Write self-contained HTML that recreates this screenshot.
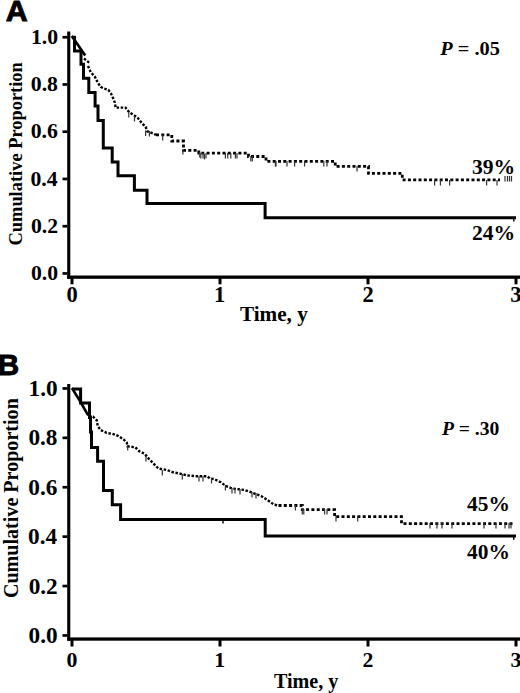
<!DOCTYPE html>
<html><head><meta charset="utf-8"><style>
html,body{margin:0;padding:0;background:#fff;overflow:hidden;}
svg{display:block;}
.t{font-family:"Liberation Serif",serif;font-weight:bold;fill:#000;}
.s{font-family:"Liberation Sans",sans-serif;font-weight:bold;fill:#000;stroke:#000;stroke-width:0.9;}
.c{fill:none;stroke:#000;stroke-width:3;stroke-linejoin:miter;stroke-linecap:butt;}
.d{fill:none;stroke:#000;stroke-width:2.8;stroke-dasharray:3 2.3;}
.e{fill:none;stroke:#000;stroke-width:2.4;stroke-dasharray:2.5 1.6;}
.k{fill:#333;}
.f{fill:none;stroke:#000;stroke-width:2.6;stroke-linecap:square;}
</style></head><body>
<svg width="520" height="693" viewBox="0 0 520 693">
<rect x="67.2" y="31.5" width="3.1" height="247.3"/>
<rect x="67.2" y="275.5" width="452.8" height="3.3"/>
<rect x="62.5" y="272.1" width="5" height="2.7"/>
<text class="t" font-size="20.7" transform="translate(30.9,280.2) scale(1.05,1)">0.0</text>
<rect x="62.5" y="224.86" width="5" height="2.7"/>
<text class="t" font-size="20.7" transform="translate(31.01,232.96) scale(1.05,1)">0.2</text>
<rect x="62.5" y="177.62" width="5" height="2.7"/>
<text class="t" font-size="20.7" transform="translate(30.47,185.72) scale(1.05,1)">0.4</text>
<rect x="62.5" y="130.38" width="5" height="2.7"/>
<text class="t" font-size="20.7" transform="translate(30.68,138.48) scale(1.05,1)">0.6</text>
<rect x="62.5" y="83.14" width="5" height="2.7"/>
<text class="t" font-size="20.7" transform="translate(30.79,91.24) scale(1.05,1)">0.8</text>
<rect x="62.5" y="35.9" width="5" height="2.7"/>
<text class="t" font-size="20.7" transform="translate(30.9,44) scale(1.05,1)">1.0</text>
<rect x="70.5" y="277.1" width="3" height="7.2"/>
<text class="t" font-size="22.5" transform="translate(66.38,301.9)">0</text>
<rect x="218.5" y="277.1" width="3" height="7.2"/>
<text class="t" font-size="22.5" transform="translate(214.04,301.9)">1</text>
<rect x="366.5" y="277.1" width="3" height="7.2"/>
<text class="t" font-size="22.5" transform="translate(362.43,301.9)">2</text>
<rect x="514.5" y="277.1" width="3" height="7.2"/>
<text class="t" font-size="22.5" transform="translate(510.32,301.9)">3</text>
<text class="t" font-size="21.2" transform="translate(239.88,320.6)">Time, y</text>
<text class="t" font-size="19.4" text-anchor="middle" transform="translate(21.9,153.85) rotate(-90) scale(0.95,1)">Cumulative Proportion</text>
<text class="t" font-size="19.2" transform="translate(440.2,54.8) scale(1.06,1)"><tspan font-style="italic">P</tspan> = .05</text>
<text class="t" font-size="20.8" transform="translate(471.99,173.5) scale(1.04,1)">39%</text>
<text class="t" font-size="20.8" transform="translate(471.99,239.5) scale(1.04,1)">24%</text>
<path class="c" d="M72,37.2 H74.5 V51 H81 V64.3 H83.5 V78.2 H88.8 V92.4 H95.1 V106 H98 V120.6 H103.3 V148 H112.2 V162 H118 V175.8 H134.4 V190.3 H147 V203.4 H265.1 V217.8 H516"/>
<path class="f" d="M72.5,37 L84.5,54.5"/>
<path class="e" d="M84,58.5 L89.5,63 M88,66 L90.8,72.3 L94.8,76.6 L97.6,82.2 L100.6,86.9 L104.2,88.6 L108.3,89.9 L111,93.5 L113.6,99.4 L114.8,102.5 L115.6,107.6 H125.4 L129.2,112.3 L134,115.2 L137.9,118 L141.7,122.9 L145.6,126.7 L147.5,131.5 L153.3,133.5 L156,134.9"/>
<path class="d" d="M156,134.9 H171.8 V141 H183.5 V150.3 H198.8 V153.2 H248.5 V156.5 H266 V161.3 H335.2 V166.3 H368.5 V173.4 H402.3 V179.8 H500"/>
<rect x="513.1" y="219" width="1.4" height="2.5"/>
<rect class="k" x="128.2" y="112" width="1.2" height="5.5"/>
<rect class="k" x="133.9" y="116" width="1.2" height="5.5"/>
<rect class="k" x="145" y="130.5" width="1.2" height="5.5"/>
<rect class="k" x="148.8" y="131" width="1.2" height="5.5"/>
<rect class="k" x="162.1" y="135" width="1.2" height="5.5"/>
<rect class="k" x="182.3" y="149" width="1.2" height="5.5"/>
<rect class="k" x="199.1" y="152" width="1.2" height="5.5"/>
<rect class="k" x="203.9" y="154" width="1.2" height="5.5"/>
<rect class="k" x="200.2" y="153" width="1.2" height="5.5"/>
<rect class="k" x="202.4" y="153" width="1.2" height="5.5"/>
<rect class="k" x="205.4" y="153" width="1.2" height="5.5"/>
<rect class="k" x="224.8" y="153" width="1.2" height="5.5"/>
<rect class="k" x="227.1" y="153" width="1.2" height="5.5"/>
<rect class="k" x="230.2" y="153" width="1.2" height="5.5"/>
<rect class="k" x="234.8" y="153" width="1.2" height="5.5"/>
<rect class="k" x="236.4" y="153" width="1.2" height="5.5"/>
<rect class="k" x="250.2" y="156" width="1.2" height="5.5"/>
<rect class="k" x="251.7" y="156" width="1.2" height="5.5"/>
<rect class="k" x="274.8" y="161" width="1.2" height="5.5"/>
<rect class="k" x="275.4" y="161" width="1.2" height="5.5"/>
<rect class="k" x="286.4" y="161" width="1.2" height="5.5"/>
<rect class="k" x="294" y="161" width="1.2" height="5.5"/>
<rect class="k" x="304" y="161" width="1.2" height="5.5"/>
<rect class="k" x="323.2" y="161" width="1.2" height="5.5"/>
<rect class="k" x="326.4" y="161" width="1.2" height="5.5"/>
<rect class="k" x="356.4" y="166" width="1.2" height="5.5"/>
<rect class="k" x="434" y="180" width="1.2" height="5.5"/>
<rect class="k" x="439.8" y="180" width="1.2" height="5.5"/>
<rect class="k" x="449" y="180" width="1.2" height="5.5"/>
<rect class="k" x="486" y="180" width="1.2" height="5.5"/>
<rect class="k" x="496.4" y="180" width="1.2" height="5.5"/>
<rect class="k" x="504.4" y="176" width="1.2" height="5.5"/>
<rect class="k" x="506.9" y="176" width="1.2" height="5.5"/>
<rect class="k" x="508.9" y="176" width="1.2" height="5.5"/>
<rect class="k" x="510.9" y="176" width="1.2" height="5.5"/>
<rect x="67.2" y="384" width="3.1" height="256.7"/>
<rect x="67.2" y="637.4" width="452.8" height="3.3"/>
<rect x="62.5" y="634.1" width="5" height="2.7"/>
<text class="t" font-size="22.4" transform="translate(28.51,643) scale(1.04,1)">0.0</text>
<rect x="62.5" y="584.7" width="5" height="2.7"/>
<text class="t" font-size="22.4" transform="translate(28.63,593.6) scale(1.04,1)">0.2</text>
<rect x="62.5" y="535.3" width="5" height="2.7"/>
<text class="t" font-size="22.4" transform="translate(28.05,544.2) scale(1.04,1)">0.4</text>
<rect x="62.5" y="485.9" width="5" height="2.7"/>
<text class="t" font-size="22.4" transform="translate(28.28,494.8) scale(1.04,1)">0.6</text>
<rect x="62.5" y="436.5" width="5" height="2.7"/>
<text class="t" font-size="22.4" transform="translate(28.4,445.4) scale(1.04,1)">0.8</text>
<rect x="62.5" y="387.1" width="5" height="2.7"/>
<text class="t" font-size="22.4" transform="translate(28.51,396) scale(1.04,1)">1.0</text>
<rect x="70.5" y="639" width="3" height="7.5"/>
<text class="t" font-size="21.8" transform="translate(66.55,666.5)">0</text>
<rect x="218.5" y="639" width="3" height="7.5"/>
<text class="t" font-size="21.8" transform="translate(214.22,666.5)">1</text>
<rect x="366.5" y="639" width="3" height="7.5"/>
<text class="t" font-size="21.8" transform="translate(362.6,666.5)">2</text>
<rect x="514.5" y="639" width="3" height="7.5"/>
<text class="t" font-size="21.8" transform="translate(510.5,666.5)">3</text>
<text class="t" font-size="20.1" transform="translate(273.9,688.4)">Time, y</text>
<text class="t" font-size="20.3" text-anchor="middle" transform="translate(17.6,498.15) rotate(-90) scale(0.99,1)">Cumulative Proportion</text>
<text class="t" font-size="19.6" transform="translate(441.9,435.4) scale(1,1)"><tspan font-style="italic">P</tspan> = .30</text>
<text class="t" font-size="21.2" transform="translate(467.01,510.5) scale(1.01,1)">45%</text>
<text class="t" font-size="21.2" transform="translate(467.01,558.5) scale(1.01,1)">40%</text>
<path class="c" d="M72,389 H80.6 V403 H89.5 V417.5 H90.5 V432 H91.5 V447.5 H97.6 V461.3 H103.5 V490.4 H112.3 V504.8 H120.6 V519.4 H265.2 V535.9 H516"/>
<path class="f" d="M72.6,389.2 L80,401 L87.3,414 L89,415.5"/>
<path class="e" d="M89,415.5 L90,416 L93,416.5 L96.8,420.4 L97.8,426.2 L100.7,430 L106.5,432.9 L112.2,433.8 L118,435.8 L123.8,439.6 L126.7,442.5 L127.6,446.3 L135.3,447.3 L139.2,451.2 L144.9,454 L148.8,458.8 L154.5,464.6 L158.4,468.5 L167,470 L173,472.3 L180.8,473.8 L187,475.4 L196,476.2 H207 L210,478.5 L214.6,479.2 L220.8,482.3 L226.2,486.2 L232.3,488.5 L238.5,489.2 L244.6,490 L249.2,491.5 L255.4,493.8 L261.5,496.2 L266.2,499.2 L270.8,502.3 L273.8,504.6 L278.5,505.5"/>
<path class="d" d="M278.5,505.5 H302.3 V509.7 H334.6 V516.7 H401.5 V523.6 H514"/>
<rect x="222.3" y="520.5" width="1.4" height="3"/>
<rect x="513" y="537" width="1.4" height="2.8"/>
<rect class="k" x="127.1" y="445" width="1.2" height="5.5"/>
<rect class="k" x="145.4" y="456" width="1.2" height="5.5"/>
<rect class="k" x="161.7" y="470" width="1.2" height="5.5"/>
<rect class="k" x="181.7" y="474" width="1.2" height="5.5"/>
<rect class="k" x="198.4" y="476" width="1.2" height="5.5"/>
<rect class="k" x="202.4" y="476" width="1.2" height="5.5"/>
<rect class="k" x="210.9" y="478" width="1.2" height="5.5"/>
<rect class="k" x="224.8" y="485" width="1.2" height="5.5"/>
<rect class="k" x="231.4" y="488" width="1.2" height="5.5"/>
<rect class="k" x="234.4" y="488" width="1.2" height="5.5"/>
<rect class="k" x="239.4" y="489" width="1.2" height="5.5"/>
<rect class="k" x="251.4" y="492" width="1.2" height="5.5"/>
<rect class="k" x="255.4" y="493" width="1.2" height="5.5"/>
<rect class="k" x="294.8" y="505" width="1.2" height="5.5"/>
<rect class="k" x="301.7" y="509" width="1.2" height="5.5"/>
<rect class="k" x="303.2" y="509" width="1.2" height="5.5"/>
<rect class="k" x="324" y="509" width="1.2" height="5.5"/>
<rect class="k" x="326.4" y="509" width="1.2" height="5.5"/>
<rect class="k" x="335.4" y="516" width="1.2" height="5.5"/>
<rect class="k" x="357.1" y="516" width="1.2" height="5.5"/>
<rect class="k" x="429.4" y="523" width="1.2" height="5.5"/>
<rect class="k" x="436.4" y="523" width="1.2" height="5.5"/>
<rect class="k" x="441.4" y="523" width="1.2" height="5.5"/>
<rect class="k" x="451.4" y="523" width="1.2" height="5.5"/>
<rect class="k" x="483.4" y="523" width="1.2" height="5.5"/>
<rect class="k" x="495.4" y="523" width="1.2" height="5.5"/>
<rect class="k" x="504.4" y="523" width="1.2" height="5.5"/>
<rect class="k" x="508.4" y="523" width="1.2" height="5.5"/>
<rect class="k" x="510.4" y="523" width="1.2" height="5.5"/>
<text class="s" font-size="30.4" transform="translate(5.74,21.2)">A</text>
<text class="s" font-size="29.6" transform="translate(-2.18,375)">B</text>
</svg></body></html>
